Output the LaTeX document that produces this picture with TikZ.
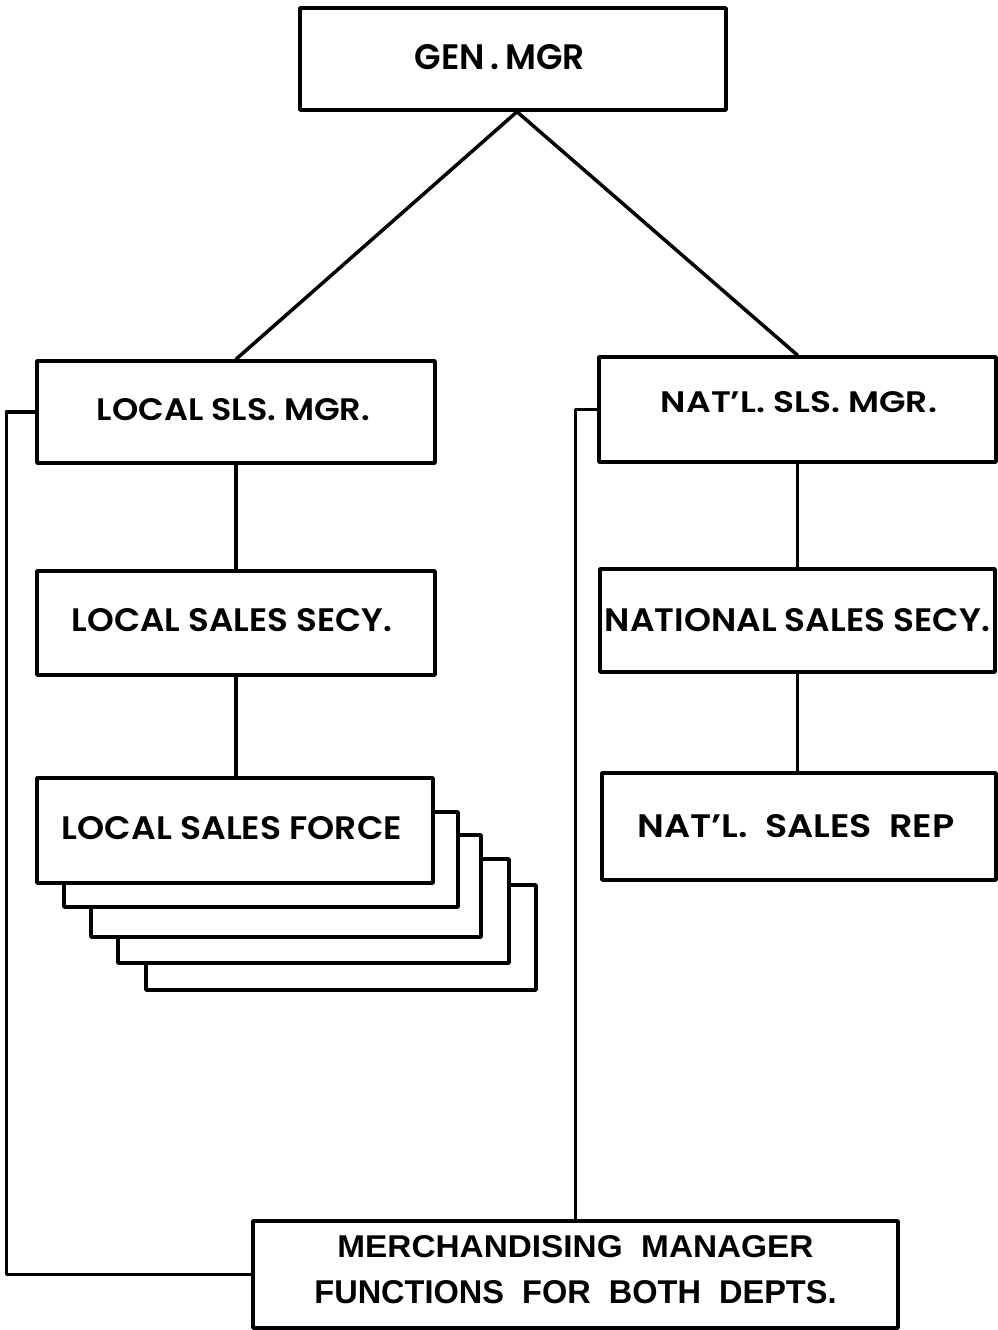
\documentclass[tikz,border=0pt]{standalone}
\usepackage{fontspec}
\setmainfont{Poppins}[UprightFont=* SemiBold]
\newfontfamily\merchfont{Liberation Sans}[UprightFont=* Bold]
\usetikzlibrary{calc}
\newcommand{\tx}[5]{\raisebox{#2pt}[\height][\depth]{\makebox[0pt]{\kern#1pt\kern#1pt\resizebox{#3pt}{#4pt}{#5}}}}
\begin{document}
\begin{tikzpicture}[x=1pt,y=-1pt,line width=3.5pt,
  box/.style={draw,rectangle,inner sep=0pt,fill=white,line join=round},
  conn/.style={line cap=round,line join=round}]
\useasboundingbox (0,0) rectangle (998,1330);

% top
\node[box,minimum width=426pt,minimum height=102pt] (gen) at (513,59)
  {\tx{-13}{2}{170}{25}{GEN\,.\,MGR}};
\coordinate (apex) at ($(gen.south)+(4,0)$);

% left column
\node[box,minimum width=398pt,minimum height=102pt] (lsm) at (236,412)
  {\tx{-2.5}{2}{273}{22}{LOCAL SLS. MGR.}};
\node[box,minimum width=398pt,minimum height=104pt] (lss) at (236,623)
  {\tx{-4}{3}{320}{23}{LOCAL SALES SECY.}};

% stacked sales-force boxes
\node[box,minimum width=390pt,minimum height=105pt] (f5) at (341,937.5) {};
\node[box,minimum width=391pt,minimum height=104pt] (f4) at (313.5,911) {};
\node[box,minimum width=390pt,minimum height=102pt] (f3) at (286,886) {};
\node[box,minimum width=394pt,minimum height=95pt] (f2) at (261,859.5) {};
\node[box,minimum width=396pt,minimum height=105pt] (lsf) at (235,830.5)
  {\tx{-3}{2.5}{340}{23}{LOCAL SALES FORCE}};

% right column
\node[box,minimum width=397pt,minimum height=105pt] (nsm) at (797.5,409.5)
  {\tx{1.5}{7.5}{276}{21}{NAT\smash{’}L. SLS. MGR.}};
\node[box,minimum width=395pt,minimum height=103pt] (nss) at (797.5,620.5)
  {\tx{0}{0}{385}{23}{NATIONAL SALES SECY.}};
\node[box,minimum width=394pt,minimum height=107pt] (nsr) at (799,826.5)
  {\tx{-3}{0}{317}{23}{NAT\smash{’}L.\ \ SALES\ \ REP}};

% merchandising manager
\node[box,minimum width=645pt,minimum height=107pt] (merch) at (575.5,1274.5)
  {\raisebox{5pt}[\height][\depth]{\merchfont\vbox{\lineskip=0pt\halign{\hfil#\hfil\cr
     \resizebox{476pt}{22pt}{MERCHANDISING\ \ MANAGER}\cr
     \noalign{\vskip 22pt}
     \resizebox{522pt}{23pt}{FUNCTIONS\ \ FOR\ \ BOTH\ \ DEPTS.}\cr}}}};

% connectors
\draw[conn] (apex) -- (lsm.north);
\draw[conn] (apex) -- (nsm.north);
\draw[conn] (lsm.south) -- (lss.north);
\draw[conn] (lss.south) -- (lss.south |- lsf.north);
\draw[conn] (nsm.south) -- (nsm.south |- nss.north);
\draw[conn] (nss.south) -- (nss.south |- nsr.north);
\draw[conn] (lsm.west) -- ++(-29,0) |- (merch.west);
\draw[conn] (nsm.west) -| (merch.north);
\end{tikzpicture}
\end{document}
